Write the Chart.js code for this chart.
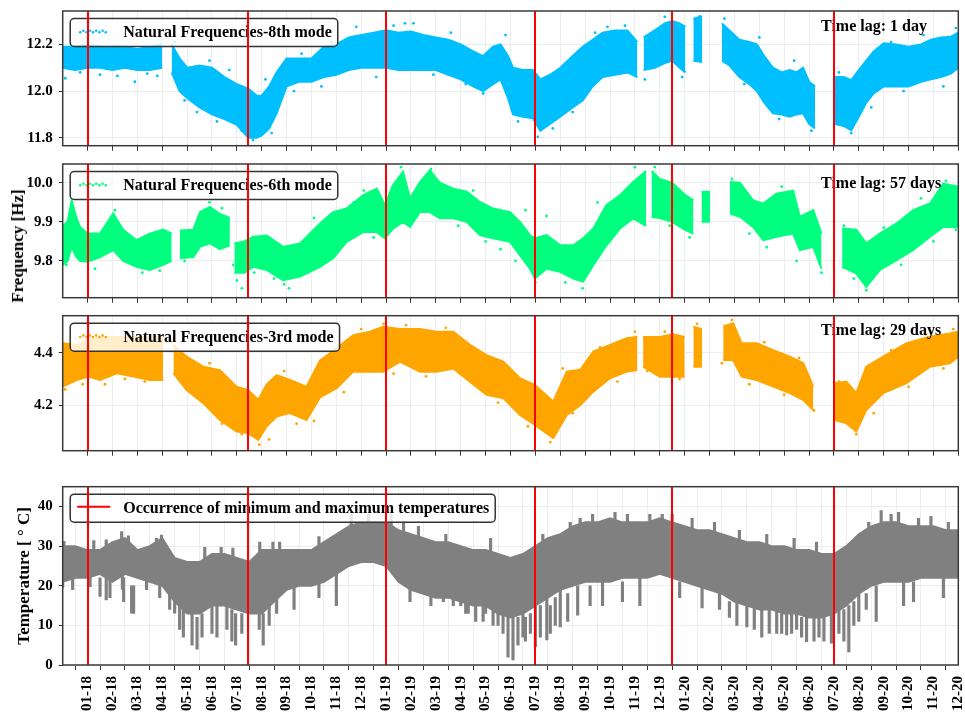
<!DOCTYPE html>
<html>
<head>
<meta charset="utf-8">
<script src="https://cdn.jsdelivr.net/npm/chart.js@4.4.0/dist/chart.umd.min.js"></script>
<style>
  body { margin: 0; background: #fff; }
  #wrap { position: relative; width: 965px; height: 714px; }
  canvas { position: absolute; left: 0; }
  .ytitle {
    position: absolute; z-index: 2; white-space: nowrap; color: #000;
    font: bold 17px 'Liberation Serif', 'Times New Roman', serif;
    transform: translate(-50%, -50%) rotate(-90deg);
  }
</style>
</head>
<body>
<div id="wrap">
  <canvas id="c8" width="965" height="156" style="top:0px"></canvas>
  <canvas id="c6" width="965" height="150" style="top:156px"></canvas>
  <canvas id="c3" width="965" height="162" style="top:306px"></canvas>
  <canvas id="cT" width="965" height="246" style="top:468px"></canvas>
  <div class="ytitle" style="left:18px; top:246px;">Frequency [Hz]</div>
</div>
<script>
// x values are months counted from 01-18 (0 = Jan 2018)
const monthLabels = ['01-18','02-18','03-18','04-18','05-18','06-18','07-18','08-18','09-18','10-18','11-18','12-18',
  '01-19','02-19','03-19','04-19','05-19','06-19','07-19','08-19','09-19','10-19','11-19','12-19',
  '01-20','02-20','03-20','04-20','05-20','06-20','07-20','08-20','09-20','10-20','11-20','12-20'];
const redLineMonths = [0, 6.46, 12, 18, 23.5, 30];

// 8th mode band (lower / upper edge of the scatter cloud), null = no data
const mode8X = [-1,-0.5,0,0.5,1,1.5,2,2.5,3,3.2,3.38,3.7,4,4.5,5,5.5,6,6.46,6.8,7,7.3,7.6,8,8.5,9,9.5,10,10.5,11,11.5,12,12.5,13,13.5,14,14.5,15,15.5,15.9,16.3,16.6,16.9,17.1,17.5,17.9,18.2,18.6,19,19.5,19.9,20.3,20.7,21.2,21.7,22.1,22.2,22.35,22.8,23.2,23.5,23.8,24.03,24.2,24.35,24.7,25,25.5,25.8,26.2,26.6,26.9,27.2,27.55,27.9,28.23,28.5,28.76,29,29.24,29.6,30,30.4,30.7,31,31.3,31.6,32,32.5,33,33.5,33.9,34.3,34.7,35];
const mode8Low = [12.10,12.09,12.10,12.10,12.09,12.10,12.09,12.09,12.10,null,12.08,12.00,11.97,11.93,11.90,11.88,11.855,11.80,11.80,11.81,11.84,11.905,12.02,12.04,12.04,12.06,12.07,12.09,12.10,12.10,12.10,12.09,12.09,12.09,12.09,12.07,12.05,12.02,12.00,12.03,12.05,11.97,11.90,11.89,11.884,11.83,11.86,11.89,11.93,11.96,12.02,12.06,12.07,12.08,12.06,null,12.09,12.10,12.12,12.13,12.10,12.08,null,12.13,12.125,null,12.13,12.11,12.06,12.03,12.00,11.95,11.905,11.90,11.89,11.90,11.905,11.86,11.84,null,11.86,11.85,11.833,11.89,11.95,11.99,12.02,12.02,12.02,12.04,12.05,12.06,12.075,12.10];
const mode8High = [12.19,12.19,12.20,12.19,12.19,12.19,12.18,12.19,12.20,null,12.20,12.14,12.10,12.11,12.10,12.06,12.03,12.01,11.98,11.98,12.02,12.08,12.14,12.14,12.14,12.19,12.20,12.23,12.24,12.25,12.26,12.25,12.255,12.24,12.23,12.22,12.20,12.17,12.15,12.19,12.20,12.15,12.10,12.09,12.09,12.05,12.07,12.10,12.15,12.19,12.22,12.25,12.26,12.26,12.21,null,12.23,12.26,12.29,12.30,12.29,12.275,null,12.31,12.32,null,12.29,12.26,12.22,12.21,12.20,12.15,12.10,12.08,12.09,12.08,12.10,12.04,12.02,null,12.06,12.06,12.047,12.09,12.13,12.17,12.205,12.20,12.19,12.20,12.22,12.23,12.233,12.25];
// scattered single readings outside the dense cloud
const mode8OutX = [-0.9,-0.3,0.5,1.2,1.9,2.4,2.8,3.5,3.9,4.4,4.9,5.2,5.7,6.2,6.65,7.15,7.4,8.3,8.6,9.4,9.8,10.8,11.6,12.3,12.76,13.1,13.9,14.6,15.2,15.9,16.8,17.3,18.1,18.7,19.5,20.4,20.9,21.6,22.4,23.2,23.9,24.6,25.6,26.4,27.0,27.8,28.4,29.1,30.2,30.7,31.5,32.3,32.8,33.6,34.4,34.9];
const mode8OutY = [12.055,12.08,12.07,12.065,12.04,12.075,12.065,12.21,11.96,11.91,12.13,11.87,12.09,11.83,11.79,12.05,11.82,12.00,12.16,12.02,12.21,12.275,12.06,12.28,12.29,12.29,12.07,12.25,12.03,11.99,12.24,11.87,11.804,11.84,11.91,12.25,12.275,12.28,12.05,12.318,12.06,12.32,12.31,12.03,12.23,11.88,12.13,11.83,12.08,11.82,11.93,12.21,12.00,12.24,12.02,12.27];

// 6th mode band
const mode6X = [-1,-0.8,-0.64,-0.45,-0.3,0,0.5,1.03,1.43,1.97,2.5,3.04,3.38,3.5,3.71,4.25,4.52,4.92,5.32,5.72,5.8,5.9,6.3,6.66,7.2,7.86,8.54,9.34,9.87,10.41,11.07,11.62,11.95,12.28,12.68,12.96,13.36,13.76,14.16,14.7,15.24,15.77,16.3,16.98,17.38,17.78,17.98,18.45,19,19.52,19.92,20.33,20.86,21.4,21.93,22.45,22.56,22.67,23,23.5,24,24.35,24.5,24.68,25.02,25.4,25.82,26.22,26.75,27.16,27.69,28.36,28.63,29.17,29.5,29.9,30.33,30.9,31.3,31.85,32.52,33.19,33.86,34.4,35];
const mode6Low = [9.79,9.80,9.836,9.81,9.80,9.798,9.81,9.828,9.80,9.785,9.777,9.79,9.80,null,9.807,9.81,9.836,9.845,9.83,9.84,null,9.77,9.77,9.785,9.777,9.751,9.76,9.785,9.807,9.849,9.874,9.874,9.858,9.883,9.90,9.887,9.925,9.925,9.909,9.909,9.90,9.866,9.858,9.849,9.815,9.78,9.755,9.78,9.772,9.755,9.747,9.79,9.84,9.883,9.909,9.89,null,9.913,9.91,9.90,9.88,9.87,null,9.90,9.90,null,9.921,9.913,9.887,9.853,9.862,9.87,9.828,9.836,9.78,null,9.785,9.768,9.734,9.777,9.802,9.828,9.862,9.887,9.887];
const mode6High = [9.89,9.90,9.955,9.91,9.887,9.87,9.87,9.922,9.88,9.853,9.87,9.88,9.87,null,9.878,9.88,9.925,9.938,9.92,9.91,null,9.845,9.85,9.862,9.865,9.836,9.845,9.896,9.925,9.934,9.968,9.985,9.943,9.994,10.028,9.96,10.002,10.032,10.0,9.985,9.977,9.951,9.934,9.925,9.90,9.866,9.858,9.866,9.84,9.84,9.858,9.883,9.943,9.968,10.002,10.03,null,10.03,10.01,10.0,9.97,9.955,null,9.977,9.977,null,10.002,10.0,9.955,9.947,9.972,9.98,9.913,9.93,9.87,null,9.883,9.88,9.845,9.87,9.896,9.93,9.947,9.998,9.99];
const mode6OutX = [-0.64,-0.85,0.3,1.1,2.2,2.9,3.9,4.9,5.4,5.85,6.0,6.2,6.7,7.5,7.9,8.1,9.1,10.7,11.1,11.5,12.6,13.2,13.8,14.9,15.5,16.0,16.6,17.2,17.6,18.0,18.45,19.2,19.9,20.5,21.2,22.0,22.8,23.4,24.2,25.9,26.6,27.3,27.9,28.5,29.5,30.4,30.8,31.3,32.0,32.7,33.5,34.0,34.5,34.9];
const mode6OutY = [9.975,9.79,9.78,9.93,9.77,9.775,9.80,9.95,9.935,9.79,9.75,9.73,9.77,9.755,9.74,9.73,9.91,9.95,9.98,9.86,10.04,9.92,10.035,9.89,9.98,9.85,9.83,9.80,9.93,9.745,9.915,9.745,9.73,9.95,9.87,10.04,10.04,9.89,9.86,10.01,9.87,9.835,9.99,9.80,9.77,9.89,9.755,9.725,9.885,9.79,9.96,9.85,10.005,9.88];

// 3rd mode band
const mode3X = [-1,-0.44,0.04,0.5,1.17,1.84,2.5,3.04,3.2,3.45,3.98,4.65,5.32,5.99,6.46,6.86,7.2,7.6,8.13,8.8,9.34,10.01,10.68,11.35,11.88,12.56,13.36,14.03,14.7,15.37,16.04,16.71,17.38,17.98,18.72,19.26,19.8,20.33,21,21.67,22.1,22.2,22.33,23,23.53,24,24.2,24.35,24.7,25,25.55,25.95,26.29,26.9,27.56,28.23,28.77,29.17,29.6,30.03,30.5,30.9,31.3,31.98,32.92,33.86,34.66,35];
const mode3Low = [4.271,4.296,4.309,4.296,4.322,4.309,4.296,4.296,null,4.322,4.258,4.208,4.144,4.10,4.094,4.068,4.12,4.157,4.17,4.144,4.23,4.265,4.328,4.328,4.328,4.366,4.328,4.328,4.34,4.29,4.24,4.227,4.163,4.125,4.075,4.163,4.20,4.252,4.303,4.328,4.334,null,4.347,4.309,4.309,4.309,null,4.347,4.347,null,4.372,4.372,4.309,4.296,4.271,4.246,4.22,4.182,null,4.144,4.131,4.10,4.182,4.246,4.284,4.347,4.36,4.385];
const mode3High = [4.436,4.43,4.448,4.46,4.46,4.46,4.46,4.46,null,4.43,4.385,4.347,4.334,4.271,4.258,4.22,4.28,4.315,4.296,4.271,4.37,4.417,4.467,4.48,4.499,4.49,4.49,4.48,4.48,4.43,4.391,4.366,4.303,4.277,4.214,4.328,4.335,4.404,4.43,4.455,4.461,null,4.46,4.46,4.47,4.46,null,4.499,4.49,null,4.50,4.512,4.436,4.436,4.41,4.385,4.36,4.271,null,4.284,4.29,4.246,4.347,4.385,4.436,4.461,4.473,4.48];
const mode3OutX = [-0.9,-0.2,0.7,1.5,2.3,3.4,4.2,4.9,5.4,6.2,6.9,7.3,7.9,8.4,9.1,9.6,10.3,11.0,11.9,12.3,12.8,13.6,14.4,15.0,15.8,16.5,17.1,17.7,18.6,19.1,19.5,20.6,21.3,22.0,22.5,23.2,23.8,24.5,25.5,25.9,26.6,27.2,28.0,28.6,29.2,30.2,30.9,31.6,32.3,33.0,33.7,34.4,34.8];
const mode3OutY = [4.26,4.28,4.28,4.30,4.29,4.45,4.25,4.36,4.13,4.09,4.05,4.07,4.33,4.13,4.14,4.38,4.25,4.49,4.51,4.32,4.505,4.31,4.495,4.32,4.40,4.21,4.32,4.12,4.06,4.34,4.17,4.42,4.29,4.48,4.33,4.48,4.30,4.51,4.36,4.525,4.28,4.44,4.24,4.38,4.18,4.29,4.09,4.17,4.41,4.27,4.47,4.34,4.49];

// temperature: daily band plus single spikes (down and up)
const tempX = [-1,-0.5,0,0.5,1,1.5,2,2.5,3,3.5,4,4.5,5,5.5,6,6.5,7,7.5,8,8.5,9,9.5,10,10.5,11,11.5,12,12.5,13,13.5,14,14.5,15,15.5,16,16.5,17,17.5,18,18.5,19,19.5,20,20.5,21,21.5,22,22.5,23,23.5,24,24.5,25,25.5,26,26.5,27,27.5,28,28.5,29,29.5,30,30.5,31,31.5,32,32.5,33,33.5,34,34.5,35];
const tempLow = [21,22,22,23,21,23,22,21,20,16,13,13,15,15,14,13,13,16,19,20,20,21,23,25,26,26,25,21,19,18,17,17,16,15,15,13,12,13,15,17,19,20,21,21,21,22,22,22,23,22,21,20,19,18,16,15,14,14,13,13,12,12,13,15,18,20,21,21,21,22,22,22,22];
const tempHigh = [30,30,29,29,31,32,29,30,32,27,26,26,28,28,27,26,29,29,29,29,29,31,33,35,36,36,36,34,33,32,31,31,30,29,29,28,27,28,30,32,33,35,36,36,37,36,36,36,37,36,35,34,34,33,32,31,31,30,30,29,29,28,28,30,33,35,36,36,35,35,35,34,34];
const tempSpikeX = [-0.6,0.9,1.45,1.85,2.9,3.3,3.7,3.85,4.2,4.4,4.6,5.0,5.2,5.6,5.8,5.95,6.2,6.9,7.06,7.3,7.6,8.3,9.3,10.0,10.6,11.3,12.96,13.9,15.0,15.3,15.6,16.0,16.3,16.9,17.1,17.3,17.5,18.0,18.2,18.46,18.8,19.0,19.7,19.8,20.7,21.2,22.2,23.1,24.7,25.8,26.1,26.5,27.1,27.4,27.7,28.1,28.5,28.9,29.2,29.4,29.9,30.2,30.6,31.0,31.7,31.9,32.3,32.8,33.9,
  -0.95,0.25,0.75,1.37,1.64,2.77,2.97,4.71,5.37,5.84,6.92,7.45,7.72,9.3,-1,0.1,0.5,0.75,1.4,1.77,2.37,3.5,
  13.8,14.3,14.7,15.2,15.9,16.5,16.7,17.6,17.8,18.6,19.3,20.2,21.5,23.8,25.4,26.8,27.9,28.3,28.7,29.6,30.4,30.8,31.3,33.2,34.4,
  12.2,12.7,13.3,14.4,16.2,18.3,19.4,20.3,21.7,22.6,23.5,24.3,25.2,26.2,27.3,28.4,29.3,31.4,32.6,33.4,34.6];
const tempSpikeMin = [19,17,16,13,17,14,9,7,5,4,7,8,7,9,6,5,8,9,5,10,13,14,17,15,34,34,16,17,15,13,11,13,10,2,1.3,5,7,4.6,7,6.3,10,9.6,12.6,34,15,36,15,35,14.4,12,10,9.6,7,8,8,7.6,9,5.9,6,7,5.5,8,3.3,11,11,35,35,15,34,
  28,28,28,30,30,29,30,25,26,26,27,28,28,29,19.6,19.8,17.3,16.4,19.1,13.1,19,13.1,
  15,16,15,13,11,10,8,6,8,8,11,15,16,17,14,9,8,8,7,6,6,10,14,16,17,
  35,33,32,30,28,29,33,35,35,35,35,34,33,31,30,28,28,33,35,34,33];
const tempSpikeMax = [24,22,22,20,21,20,16,14,13,12,13,15,15,15,14,13,13,13,13,16,17,20,21,23,38,38,20,20,17,16,16,16,15,13,12,12,13,15,15,17,17,19,20,37,21,38.5,22,38,20,16,16,15,14,14,14,13,13,12,12,12,13,15,15,18,20,39,38,21,37.5,
  31.2,31.4,31.6,33.7,32.6,32,32.8,29.7,29.7,29.5,31,31,31,32.4,23,23,22,22,23,20,22,18,
  19,19,18,16,15,14,13,12,13,15,18,20,21,21,19,15,13,13,12,12,14,16,18,21,22,
  38,36,35,33,32,33,36,38,38,38,38,37,36,34,33,32,31,36,38.5,37,36];

const yTicks8 = [11.8, 12.0, 12.2];
const yTicks6 = [9.8, 9.9, 10.0];
const yTicks3 = [4.2, 4.4];
const yTicksT = [0, 10, 20, 30, 40];

const serif = "'Liberation Serif', 'Times New Roman', serif";
Chart.defaults.font.family = serif;
const gridColor = '#ececec';
const tickColor = '#333';

const pts = (xs, ys) => xs.map((x, i) => ({ x: x, y: ys[i] }));

const decor = {
  id: 'decor',
  afterDatasetsDraw(chart, args, opts) {
    const { ctx, chartArea: { left, top, right, bottom }, scales: { x } } = chart;
    ctx.save();
    // legend box
    ctx.font = 'bold 16px ' + serif;
    const bx = left + 7.5, by = top + 7.5, bh = 28;
    const bw = 53 + ctx.measureText(opts.label).width + 6;
    ctx.beginPath();
    ctx.roundRect(bx, by, bw, bh, 4);
    ctx.fillStyle = 'rgba(255,255,255,0.8)';
    ctx.fill();
    ctx.strokeStyle = '#333';
    ctx.lineWidth = 1.5;
    ctx.stroke();
    if (opts.marker === 'line') {
      ctx.strokeStyle = opts.color;
      ctx.lineWidth = 2;
      ctx.beginPath();
      ctx.moveTo(bx + 7, by + 12.5);
      ctx.lineTo(bx + 40, by + 12.5);
      ctx.stroke();
    } else {
      ctx.fillStyle = opts.color;
      for (let k = 0; k < 9; k++) {
        ctx.beginPath();
        ctx.arc(bx + 10 + k * 3.2, by + 13 + (k % 2 ? -0.8 : 0.8), 1.3, 0, Math.PI * 2);
        ctx.fill();
      }
    }
    ctx.fillStyle = '#000';
    ctx.textBaseline = 'middle';
    ctx.textAlign = 'left';
    ctx.fillText(opts.label, bx + 53, by + bh / 2 + 0.5);
    if (opts.lag) {
      ctx.fillText(opts.lag, 821, top + opts.lagY);
    }
    // occurrence of min / max temperatures
    ctx.strokeStyle = '#ff0000';
    ctx.lineWidth = 2;
    redLineMonths.forEach(m => {
      const px = Math.round(x.getPixelForValue(m));
      ctx.beginPath();
      ctx.moveTo(px, top);
      ctx.lineTo(px, bottom);
      ctx.stroke();
    });
    // frame
    ctx.strokeStyle = '#3a3a3a';
    ctx.lineWidth = 1.5;
    ctx.strokeRect(left, top, right - left, bottom - top);
    ctx.restore();
  }
};

const panel = (id, cfg) => {
  const datasets = [
    {
      data: pts(cfg.xs, cfg.low), borderColor: cfg.color, backgroundColor: cfg.color,
      borderWidth: 2, pointRadius: 0, fill: false, spanGaps: false, tension: 0
    },
    {
      data: pts(cfg.xs, cfg.high), borderColor: cfg.color, backgroundColor: cfg.color,
      borderWidth: 2, pointRadius: 0, fill: '-1', spanGaps: false, tension: 0
    }
  ];
  if (cfg.outX) {
    datasets.push({
      data: pts(cfg.outX, cfg.outY), showLine: false, fill: false,
      pointRadius: 1.4, pointBorderWidth: 0, pointBackgroundColor: cfg.color, borderColor: cfg.color
    });
  }
  if (cfg.spikes) {
    datasets.push({
      type: 'bar',
      data: cfg.spikes,
      backgroundColor: cfg.color,
      borderWidth: 0,
      barThickness: 2.5,
      grouped: false
    });
  }
  const tickFont = { size: 15, weight: 'bold', family: serif };
  return new Chart(document.getElementById(id), {
    type: 'line',
    data: { datasets: datasets },
    options: {
      responsive: false,
      animation: false,
      devicePixelRatio: 1,
      layout: { padding: { top: cfg.padTop, right: 6.7, bottom: 0, left: 0 } },
      plugins: {
        legend: { display: false },
        tooltip: { enabled: false },
        decor: { label: cfg.label, color: cfg.legendColor || cfg.color, marker: cfg.marker, lag: cfg.lag, lagY: cfg.lagY }
      },
      scales: {
        x: {
          type: 'linear', min: -1, max: 35, offset: false,
          afterBuildTicks: s => { s.ticks = monthLabels.map((_, i) => ({ value: i })); },
          afterFit: s => { s.height = cfg.xHeight; s.paddingLeft = 0; s.paddingRight = 0; },
          ticks: {
            display: cfg.showX, autoSkip: false, maxRotation: 90, minRotation: 90, padding: 6,
            color: '#000', font: tickFont,
            callback: (v, i) => monthLabels[i]
          },
          grid: { color: gridColor, tickColor: tickColor, tickLength: 5, lineWidth: 1 },
          border: { display: false }
        },
        y: {
          min: cfg.yMin, max: cfg.yMax,
          afterBuildTicks: s => { s.ticks = cfg.yTicks.map(v => ({ value: v })); },
          afterFit: s => { s.width = 62.7; s.paddingTop = 0; s.paddingBottom = 0; },
          ticks: {
            color: '#000', font: tickFont, padding: 6,
            callback: v => cfg.decimals ? v.toFixed(cfg.decimals) : String(v)
          },
          grid: { color: gridColor, tickColor: tickColor, tickLength: 4, lineWidth: 1 },
          border: { display: false },
          title: {
            display: !!cfg.yTitle, text: cfg.yTitle || '', color: '#000',
            font: { size: 17, weight: 'bold', family: serif },
            padding: { top: cfg.titlePad || 0, bottom: 0 }
          }
        }
      }
    },
    plugins: [decor]
  });
};

panel('c8', {
  xs: mode8X, low: mode8Low, high: mode8High, outX: mode8OutX, outY: mode8OutY, color: '#00bfff',
  yMin: 11.766, yMax: 12.343, yTicks: yTicks8, decimals: 1,
  padTop: 11, xHeight: 10.3, showX: false,
  label: 'Natural Frequencies-8th mode', marker: 'dots', lag: 'Time lag: 1 day', lagY: 16
});
panel('c6', {
  xs: mode6X, low: mode6Low, high: mode6High, outX: mode6OutX, outY: mode6OutY, color: '#00ff7f',
  yMin: 9.706, yMax: 10.048, yTicks: yTicks6, decimals: 1,
  padTop: 8, xHeight: 8.3, showX: false,
  label: 'Natural Frequencies-6th mode', marker: 'dots', lag: 'Time lag: 57 days', lagY: 19.5
});
panel('c3', {
  xs: mode3X, low: mode3Low, high: mode3High, outX: mode3OutX, outY: mode3OutY, color: '#ffa500',
  yMin: 4.027, yMax: 4.541, yTicks: yTicks3, decimals: 1,
  padTop: 9.7, xHeight: 17.3, showX: false,
  label: 'Natural Frequencies-3rd mode', marker: 'dots', lag: 'Time lag: 29 days', lagY: 15.5
});
panel('cT', {
  xs: tempX, low: tempLow, high: tempHigh, color: '#808080',
  spikes: tempSpikeX.map((x, i) => ({ x: x, y: [tempSpikeMin[i], tempSpikeMax[i]] })),
  yMin: 0, yMax: 45, yTicks: yTicksT, decimals: 0,
  padTop: 18.7, xHeight: 49, showX: true, yTitle: 'Temperature [ ° C]', titlePad: 14,
  label: 'Occurrence of minimum and maximum temperatures', marker: 'line', legendColor: '#ff0000'
});
</script>
</body>
</html>
